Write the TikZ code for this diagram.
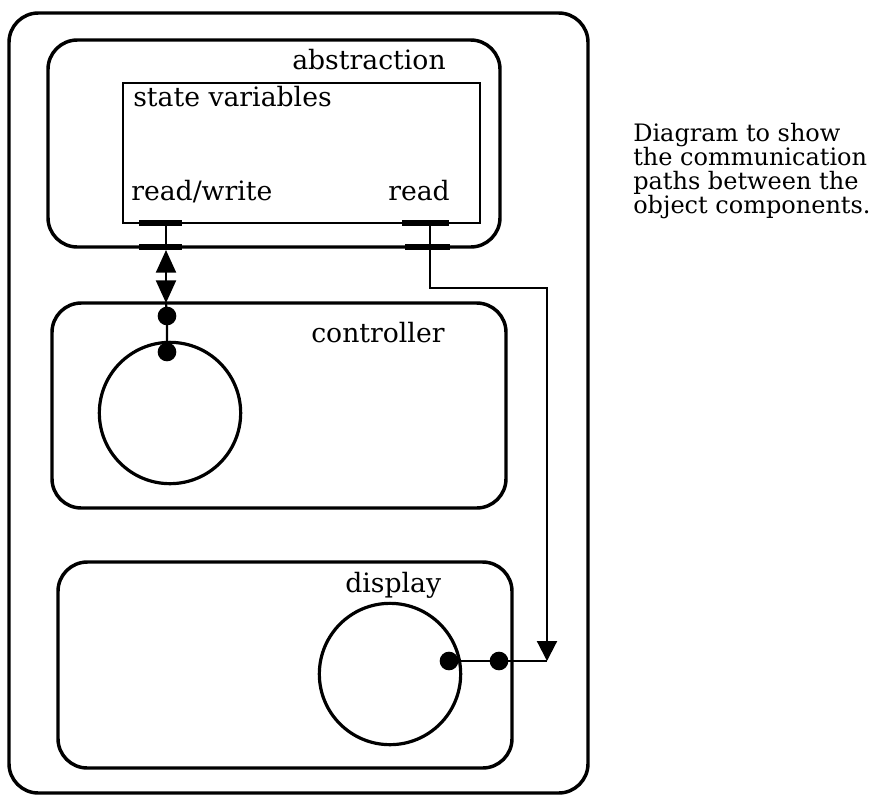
\documentclass[tikz,border=0pt]{standalone}
\usepackage{fontspec}
\setmainfont{DejaVu Serif}
\usetikzlibrary{fit,arrows.meta}
\begin{document}
\begin{tikzpicture}[x=0.75pt,y=-0.75pt,
  bigbox/.style={draw,line width=2.6pt,rounded corners=22pt,inner sep=0pt},
  statebox/.style={draw,line width=1.8pt,inner sep=0pt},
  ring/.style={draw,circle,line width=2.4pt,inner sep=0pt,minimum size=106pt},
  dot/.style={circle,fill,inner sep=0pt,minimum size=14pt},
  portbar/.style={fill,inner sep=0pt},
  wire/.style={line width=1.6pt},
  lbl/.style={font=\fontsize{20}{24}\selectfont,inner sep=0pt,anchor=base west}
]
\useasboundingbox (0,0) rectangle (875,801);
% boxes
\node[bigbox,fit={(9,13) (588,793)}] (outer) {};
\node[bigbox,fit={(48,40) (500,247)}] (abs) {};
\node[statebox,fit={(123,83) (480,223)}] (state) {};
\node[bigbox,fit={(52,303) (506,508)}] (ctl) {};
\node[bigbox,fit={(58,562) (512,768)}] (disp) {};
% labels
\node[lbl] (tabs) at (292,69) {abstraction};
\node[lbl] (tstate) at (133,106) {state variables};
\node[lbl] (trw) at (131,200) {read/write};
\node[lbl] (tread) at (388,200) {read};
\node[lbl] (tctl) at (311,342) {controller};
\node[lbl] (tdisp) at (345,592) {display};
\node[font=\fontsize{18}{18}\selectfont,inner sep=0pt,anchor=base west,align=left] (note) at (633,213)
  {Diagram to show\\the communication\\paths between the\\object components.};
% ports
\node[portbar,fit={(139,220) (182,226)}] (rwin) {};
\node[portbar,fit={(139,244) (182,250)}] (rwout) {};
\node[portbar,fit={(402,220) (449,226)}] (rin) {};
\node[portbar,fit={(405,244) (450,250)}] (rout) {};
% circles and dots
\node[ring] (cc) at (170,413) {};
\node[ring] (dc) at (390,674) {};
\node[dot] (cd1) at (167,316) {};
\node[dot] (cd2) at (167,352) {};
\node[dot] (dd1) at (449,661) {};
\node[dot] (dd2) at (499,661) {};
\coordinate (rwtop) at (166,223);
\coordinate (rwa) at (166,250);
\coordinate (rwb) at (166,303);
\coordinate (rtop) at (430,223);
\coordinate (rbend) at (430,288);
\coordinate (rcorner) at (547,288);
\coordinate (rend) at (547,661);
% read/write link
\draw[wire] (rwtop) -- (rwa);
\draw[wire,{Triangle[length=17pt,width=15pt]}-{Triangle[length=17pt,width=15pt]}] (rwa) -- (rwb);
\draw[wire] (rwb) -- (cd1.center) -- (cd2.center);
% read link
\draw[wire] (rtop) -- (rbend) -- (rcorner) -- (547,636);
\draw[wire,-{Triangle[length=15pt,width=15pt]}] (547,630) -- (rend);
\draw[wire] (rend) -- (dd2.center) -- (dd1.center);
\end{tikzpicture}
\end{document}
